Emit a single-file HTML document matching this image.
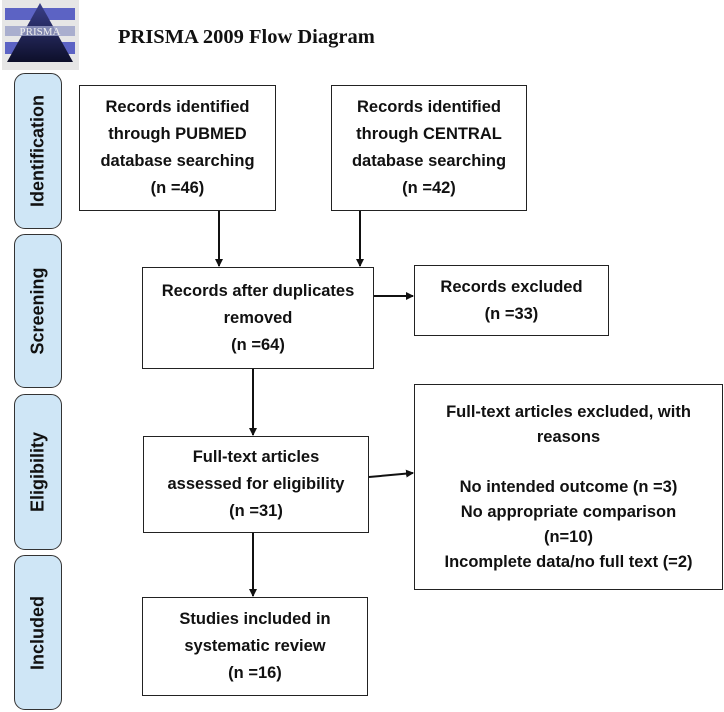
<!DOCTYPE html>
<html><head><style>
body{margin:0;width:724px;height:712px;background:#fff;position:relative;overflow:hidden;font-family:"Liberation Sans",sans-serif;}
.b{position:absolute;border:1.5px solid #222;box-sizing:border-box;display:flex;flex-direction:column;justify-content:center;align-items:center;text-align:center;font-weight:bold;font-size:16.5px;line-height:27px;color:#111;background:#fff;}
.p{position:absolute;left:14px;width:48px;border:1.5px solid #333;border-radius:11px;background:#cfe6f6;box-sizing:border-box;}
.p span{position:absolute;left:50%;top:50%;transform:translate(-50%,-50%) rotate(-90deg);font-weight:bold;font-size:18px;white-space:nowrap;color:#111;}
svg{position:absolute;left:0;top:0;}
</style></head><body>
<svg width="724" height="712">
<defs><marker id="a" markerWidth="8" markerHeight="8" refX="7" refY="4" orient="auto" markerUnits="userSpaceOnUse"><path d="M0,0 L8,4 L0,8z" fill="#111"/></marker>
<linearGradient id="g" x1="0" y1="0" x2="0" y2="1"><stop offset="0" stop-color="#3a3f8a"/><stop offset="1" stop-color="#0d0f2a"/></linearGradient></defs>
<rect x="2" y="0" width="77" height="70" fill="#e6e6e6"/>
<rect x="5" y="8" width="70" height="12" fill="#5c63c4"/>
<rect x="5" y="42" width="70" height="12" fill="#5c63c4"/>
<polygon points="40,3 73,62 7,62" fill="url(#g)"/>
<rect x="5" y="26" width="70" height="10" fill="#9aa0c8" opacity="0.8"/>
<text x="40" y="35" font-family="Liberation Serif" font-size="11" fill="#eee" text-anchor="middle">PRISMA</text>
<text x="118" y="43" font-family="Liberation Serif,serif" font-weight="bold" font-size="20.5" fill="#111">PRISMA 2009 Flow Diagram</text>
<g stroke="#111" stroke-width="2" fill="none">
<line x1="219" y1="210" x2="219" y2="266" marker-end="url(#a)"/>
<line x1="360" y1="210" x2="360" y2="266" marker-end="url(#a)"/>
<line x1="374" y1="296" x2="413" y2="296" marker-end="url(#a)"/>
<line x1="253" y1="369" x2="253" y2="435" marker-end="url(#a)"/>
<line x1="369" y1="477" x2="413" y2="473" marker-end="url(#a)"/>
<line x1="253" y1="533" x2="253" y2="596" marker-end="url(#a)"/>
</g>
</svg>
<div class="p" style="top:73px;height:156px"><span>Identification</span></div>
<div class="p" style="top:234px;height:154px"><span>Screening</span></div>
<div class="p" style="top:394px;height:156px"><span>Eligibility</span></div>
<div class="p" style="top:555px;height:155px"><span>Included</span></div>
<div class="b" style="left:79px;top:85px;width:197px;height:126px">Records identified<br>through PUBMED<br>database searching<br>(n =46)</div>
<div class="b" style="left:331px;top:85px;width:196px;height:126px">Records identified<br>through CENTRAL<br>database searching<br>(n =42)</div>
<div class="b" style="left:142px;top:267px;width:232px;height:102px">Records after duplicates<br>removed<br>(n =64)</div>
<div class="b" style="left:414px;top:265px;width:195px;height:71px">Records excluded<br>(n =33)</div>
<div class="b" style="left:143px;top:436px;width:226px;height:97px">Full-text articles<br>assessed for eligibility<br>(n =31)</div>
<div class="b" style="left:414px;top:384px;width:309px;height:206px;line-height:25px">Full-text articles excluded, with<br>reasons<br><br>No intended outcome (n =3)<br>No appropriate comparison<br>(n=10)<br>Incomplete data/no full text (=2)</div>
<div class="b" style="left:142px;top:597px;width:226px;height:99px">Studies included in<br>systematic review<br>(n =16)</div>
</body></html>
